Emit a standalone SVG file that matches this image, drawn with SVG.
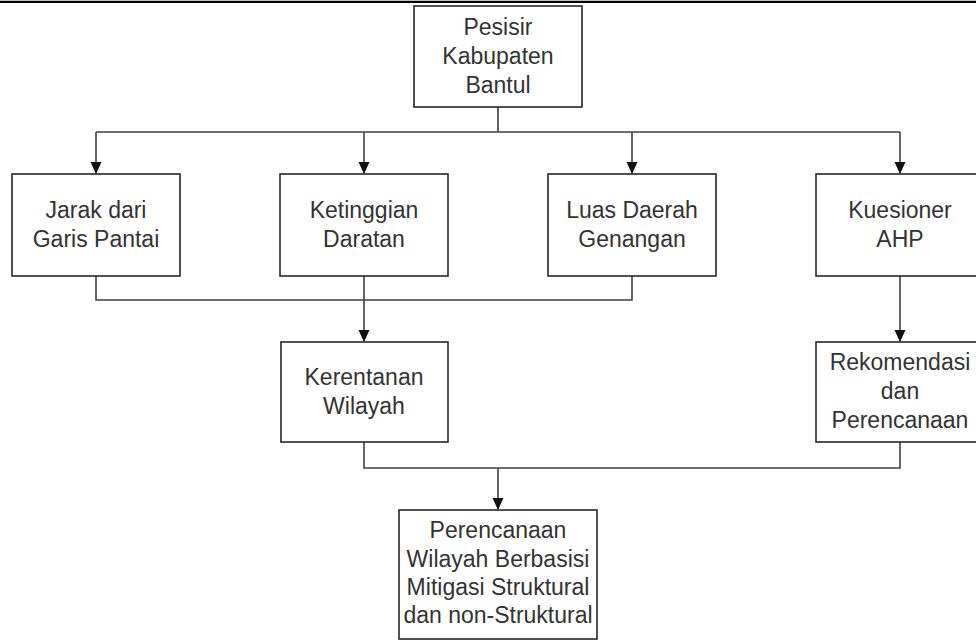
<svg xmlns="http://www.w3.org/2000/svg" width="976" height="641" viewBox="0 0 976 641">
<style>
.box{fill:#fff;stroke:#262626;stroke-width:1.6}
.t{font-family:"Liberation Sans",Arial,sans-serif;font-size:23px;fill:#333;text-anchor:middle}
.c{fill:none;stroke:#404040;stroke-width:1.6}
</style>
<rect x="0" y="0" width="976" height="641" fill="#fff"/>
<line x1="0" y1="1.8" x2="976" y2="1.8" stroke="#000" stroke-width="2.2"/>
<g id="connectors">
<path class="c" d="M498 107 V132 M96 132 H900"/>
<path class="c" d="M96 132 V173"/>
<path class="c" d="M364 132 V173"/>
<path class="c" d="M632 132 V173"/>
<path class="c" d="M900 132 V173"/>
<path class="c" d="M96 276 V300 H632 V276"/>
<path class="c" d="M364 276 V341"/>
<path class="c" d="M900 276 V341"/>
<path class="c" d="M364 442 V468 H900 V442"/>
<path class="c" d="M498 468 V509"/>
<g fill="#111">
<path d="M90.5 162 H101.5 L96 174 Z"/>
<path d="M358.5 162 H369.5 L364 174 Z"/>
<path d="M626.5 162 H637.5 L632 174 Z"/>
<path d="M894.5 162 H905.5 L900 174 Z"/>
<path d="M358.5 330 H369.5 L364 342 Z"/>
<path d="M894.5 330 H905.5 L900 342 Z"/>
<path d="M492.5 498 H503.5 L498 510 Z"/>
</g>
</g>
<g id="pesisir">
<rect class="box" x="414" y="6" width="168" height="101"/>
<text class="t" x="498" y="35">Pesisir</text>
<text class="t" x="498" y="64">Kabupaten</text>
<text class="t" x="498" y="93">Bantul</text>
</g>
<g id="jarak">
<rect class="box" x="12" y="174" width="168" height="102"/>
<text class="t" x="96" y="218">Jarak dari</text>
<text class="t" x="96" y="247">Garis Pantai</text>
</g>
<g id="ketinggian">
<rect class="box" x="280" y="174" width="168" height="102"/>
<text class="t" x="364" y="218">Ketinggian</text>
<text class="t" x="364" y="247">Daratan</text>
</g>
<g id="luas">
<rect class="box" x="548" y="174" width="168" height="102"/>
<text class="t" x="632" y="218">Luas Daerah</text>
<text class="t" x="632" y="247">Genangan</text>
</g>
<g id="kuesioner">
<rect class="box" x="816" y="174" width="168" height="102"/>
<text class="t" x="900" y="218">Kuesioner</text>
<text class="t" x="900" y="247">AHP</text>
</g>
<g id="kerentanan">
<rect class="box" x="281" y="342" width="167" height="100"/>
<text class="t" x="364" y="385">Kerentanan</text>
<text class="t" x="364" y="414">Wilayah</text>
</g>
<g id="rekomendasi">
<rect class="box" x="816" y="342" width="168" height="100"/>
<text class="t" x="900" y="370">Rekomendasi</text>
<text class="t" x="900" y="399">dan</text>
<text class="t" x="900" y="428">Perencanaan</text>
</g>
<g id="perencanaan">
<rect class="box" x="399" y="510" width="198" height="129"/>
<text class="t" x="498" y="538">Perencanaan</text>
<text class="t" x="498" y="567">Wilayah Berbasisi</text>
<text class="t" x="498" y="595">Mitigasi Struktural</text>
<text class="t" x="498" y="623">dan non-Struktural</text>
</g>
</svg>
